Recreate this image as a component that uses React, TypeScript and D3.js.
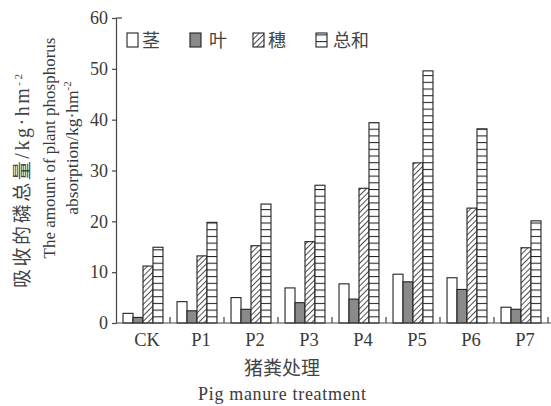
import React, { useRef, useEffect } from "react";
import * as d3 from "d3";

const categories = ["CK", "P1", "P2", "P3", "P4", "P5", "P6", "P7"];
const seriesNames = ["茎", "叶", "穗", "总和"];
const stem = [1.9, 4.2, 5.0, 6.9, 7.7, 9.6, 8.9, 3.1];
const leaf = [1.1, 2.4, 2.7, 4.0, 4.7, 8.1, 6.6, 2.7];
const spike = [11.2, 13.2, 15.2, 16.0, 26.5, 31.5, 22.6, 14.8];
const total = [14.9, 19.8, 23.4, 27.1, 39.4, 49.6, 38.2, 20.1];
const yTicks = [0, 10, 20, 30, 40, 50, 60];

const fills = ["#fff", "#8a8a8a", "url(#hatch)", "url(#hstripe)"];
const TXT = "#3a3a3a";
const FONT = "'Liberation Serif', 'Noto Sans CJK SC', serif";

const App: React.FC = () => {
  const svgRef = useRef<SVGSVGElement>(null);

  useEffect(() => {
    const svg = d3.select(svgRef.current);
    svg.selectAll("*").remove();

    const x = d3
      .scaleBand()
      .domain(categories)
      .range([116, 548])
      .paddingInner(0.26)
      .paddingOuter(0.13);
    const y = d3.scaleLinear().domain([0, 60]).range([323, 18]);
    const xs = d3
      .scaleBand()
      .domain(seriesNames)
      .range([0, x.bandwidth()]);

    const defs = svg.append("defs");
    const hatch = defs
      .append("pattern")
      .attr("id", "hatch")
      .attr("patternUnits", "userSpaceOnUse")
      .attr("width", 4)
      .attr("height", 4)
      .attr("patternTransform", "rotate(45)");
    hatch.append("rect").attr("width", 4).attr("height", 4).attr("fill", "#fff");
    hatch
      .append("line")
      .attr("x1", 0)
      .attr("y1", 0)
      .attr("x2", 0)
      .attr("y2", 4)
      .attr("stroke", "#222")
      .attr("stroke-width", 1.6);

    const hs = defs
      .append("pattern")
      .attr("id", "hstripe")
      .attr("patternUnits", "userSpaceOnUse")
      .attr("width", 10)
      .attr("height", 6.7)
      .attr("y", 323);
    hs.append("rect").attr("width", 10).attr("height", 6.7).attr("fill", "#fff");
    hs.append("line")
      .attr("x1", 0)
      .attr("x2", 10)
      .attr("y1", 0.5)
      .attr("y2", 0.5)
      .attr("stroke", "#222")
      .attr("stroke-width", 1.1);

    const data = [stem, leaf, spike, total];

    data.forEach((vals, s) => {
      svg
        .append("g")
        .selectAll("rect")
        .data(vals)
        .enter()
        .append("rect")
        .attr("x", (_d, i) => x(categories[i])! + xs(seriesNames[s])!)
        .attr("y", (d) => y(d))
        .attr("width", xs.bandwidth())
        .attr("height", (d) => y(0) - y(d))
        .attr("fill", fills[s])
        .attr("stroke", "#222")
        .attr("stroke-width", 1.1);
    });

    // y axis
    const ya = svg
      .append("g")
      .attr("transform", "translate(116,0)")
      .call(
        d3
          .axisLeft(y)
          .tickValues(yTicks)
          .tickSize(4)
          .tickPadding(4)
          .tickSizeOuter(0)
      );
    ya.select(".domain").attr("stroke", "#444").attr("stroke-width", 1.2);
    ya.selectAll("line").attr("stroke", "#444").attr("stroke-width", 1.2);
    ya.selectAll("text")
      .attr("font-family", FONT)
      .attr("font-size", 18)
      .attr("fill", TXT);
    svg
      .append("line")
      .attr("x1", 116)
      .attr("x2", 122)
      .attr("y1", y(60))
      .attr("y2", y(60))
      .attr("stroke", "#444")
      .attr("stroke-width", 1.2);

    // x axis
    const xa = svg.append("g");
    xa.append("line")
      .attr("x1", 116)
      .attr("x2", 551)
      .attr("y1", y(0))
      .attr("y2", y(0))
      .attr("stroke", "#444")
      .attr("stroke-width", 1.2);
    xa.selectAll(".tk")
      .data(categories)
      .enter()
      .append("line")
      .attr("x1", (d) => x(d)! + x.bandwidth() + (x.step() - x.bandwidth()) / 2)
      .attr("x2", (d) => x(d)! + x.bandwidth() + (x.step() - x.bandwidth()) / 2)
      .attr("y1", y(0))
      .attr("y2", y(0) - 6)
      .attr("stroke", "#444")
      .attr("stroke-width", 1.2);
    xa.selectAll(".lb")
      .data(categories)
      .enter()
      .append("text")
      .attr("x", (d) => x(d)! + x.bandwidth() / 2 + 4)
      .attr("y", 346)
      .attr("text-anchor", "middle")
      .attr("font-family", FONT)
      .attr("font-size", 18.5)
      .attr("fill", TXT)
      .text((d) => d);

    svg
      .append("text")
      .attr("x", 282)
      .attr("y", 375)
      .attr("text-anchor", "middle")
      .attr("font-family", FONT)
      .attr("font-size", 19)
      .attr("fill", "#444")
      .text("猪粪处理");
    svg
      .append("text")
      .attr("x", 282)
      .attr("y", 400)
      .attr("text-anchor", "middle")
      .attr("font-family", FONT)
      .attr("font-size", 18)
      .attr("textLength", 168)
      .attr("lengthAdjust", "spacing")
      .attr("fill", TXT)
      .text("Pig manure treatment");

    // y title
    const t1 = svg
      .append("text")
      .attr("transform", "translate(29,181) rotate(-90)")
      .attr("text-anchor", "middle")
      .attr("font-family", FONT)
      .attr("font-size", 19)
      .attr("textLength", 214)
      .attr("lengthAdjust", "spacing")
      .attr("fill", "#444");
    t1.append("tspan").text("吸收的磷总量");
    t1.append("tspan").attr("font-size", 20).text("/kg·hm");
    t1.append("tspan").attr("font-size", 11).attr("dy", -7).text("-2");

    svg
      .append("text")
      .attr("transform", "translate(55,148) rotate(-90)")
      .attr("text-anchor", "middle")
      .attr("font-family", FONT)
      .attr("font-size", 17)
      .attr("fill", TXT)
      .text("The amount of plant phosphorus");
    const t3 = svg
      .append("text")
      .attr("transform", "translate(78,148) rotate(-90)")
      .attr("text-anchor", "middle")
      .attr("font-family", FONT)
      .attr("font-size", 17.5)
      .attr("fill", TXT);
    t3.append("tspan").text("absorption/kg·hm");
    t3.append("tspan").attr("font-size", 11).attr("dy", -7).text("-2");

    // legend
    const lg = svg
      .selectAll(".lg")
      .data(seriesNames)
      .enter()
      .append("g")
      .attr("transform", (_d, i) => `translate(${127 + i * 63},33)`);
    lg.append("rect")
      .attr("width", 11)
      .attr("height", 14)
      .attr("fill", (_d, i) => fills[i])
      .attr("stroke", "#222")
      .attr("stroke-width", 1.1);
    lg.append("text")
      .attr("x", (_d, i) => (i === 1 ? 19 : i === 3 ? 17 : 15))
      .attr("y", 14)
      .attr("font-family", FONT)
      .attr("font-size", 18)
      .attr("fill", "#444")
      .text((d) => d);
  }, []);

  return (
    <svg
      ref={svgRef}
      width={551}
      height={406}
      style={{ position: "absolute", left: 0, top: 0, background: "#fff" }}
    />
  );
};

export default App;
